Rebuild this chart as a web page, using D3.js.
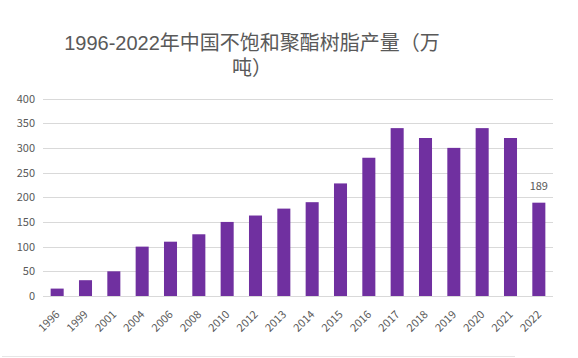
<!DOCTYPE html>
<html><head><meta charset="utf-8">
<script src="https://cdn.jsdelivr.net/npm/d3@7"></script>
<style>html,body{margin:0;padding:0;background:#fff;}</style>
</head><body>
<svg id="c" width="578" height="358"></svg>
<script>
const years = ["1996","1999","2001","2004","2006","2008","2010","2012","2013","2014","2015","2016","2017","2018","2019","2020","2021","2022"];
const values = [15,32,50,100,110,125,150,163,177,190,228,280,340,320,300,340,320,189];
const yTicks = [0,50,100,150,200,250,300,350,400];
const titleLines = ["1996-2022年中国不饱和聚酯树脂产量（万","吨）"];
const labelled = ["2022"];

const svg = d3.select("#c");
const font = "'Noto Sans CJK SC','Noto Sans',sans-serif";
const titleFont = "'Liberation Sans','Noto Sans CJK SC',sans-serif";
const m = {l:43, r:553, t:98.5, b:296};
const x = d3.scaleBand().domain(years).range([m.l, m.r]).paddingInner(0.54).paddingOuter(0.27);
const y = d3.scaleLinear().domain([0,400]).range([m.b, m.t]);

const title = svg.append("g").attr("text-anchor","middle")
  .attr("font-family",titleFont).attr("font-size",20).attr("fill","#595959");
title.selectAll("text").data(titleLines).join("text")
  .attr("x",252).attr("y",(d,i)=>50+i*25).text(d=>d);

// gridlines
svg.append("g").selectAll("line").data(yTicks).join("line")
  .attr("x1",m.l).attr("x2",m.r).attr("y1",d=>Math.round(y(d))+0.5).attr("y2",d=>Math.round(y(d))+0.5)
  .attr("stroke","#d9d9d9").attr("stroke-width",1);

// y axis
const ya = d3.axisLeft(y).tickValues(yTicks).tickSize(0).tickPadding(8);
const gy = svg.append("g").attr("transform",`translate(${m.l},0)`).call(ya);
gy.select(".domain").remove();
gy.selectAll("text").attr("font-family",font).attr("font-size",11).attr("fill","#595959");

// bars
svg.append("g").selectAll("rect").data(years).join("rect")
  .attr("x",d=>x(d)).attr("width",x.bandwidth())
  .attr("y",(d,i)=>y(values[i])).attr("height",(d,i)=>y(0)-y(values[i]))
  .attr("fill","#7030A0");

// x axis
const xa = d3.axisBottom(x).tickSize(0).tickPadding(0);
const gx = svg.append("g").attr("transform",`translate(0,${m.b})`).call(xa);
gx.select(".domain").remove();
gx.selectAll("text").attr("font-family",font).attr("font-size",11).attr("fill","#595959")
  .attr("text-anchor","end").attr("dy",null).attr("y",0)
  .attr("transform","translate(1,17) rotate(-45)").attr("dominant-baseline","middle");

// data label
svg.append("g").selectAll("text").data(labelled).join("text")
  .attr("x",d=>x(d)+x.bandwidth()/2).attr("y",d=>y(values[years.indexOf(d)])-13)
  .attr("text-anchor","middle").attr("font-family",font).attr("font-size",11).attr("fill","#595959")
  .text(d=>values[years.indexOf(d)]);

svg.append("line").attr("x1",2).attr("x2",515).attr("y1",356.5).attr("y2",356.5).attr("stroke","#e6e6e6");
</script>
</body></html>
